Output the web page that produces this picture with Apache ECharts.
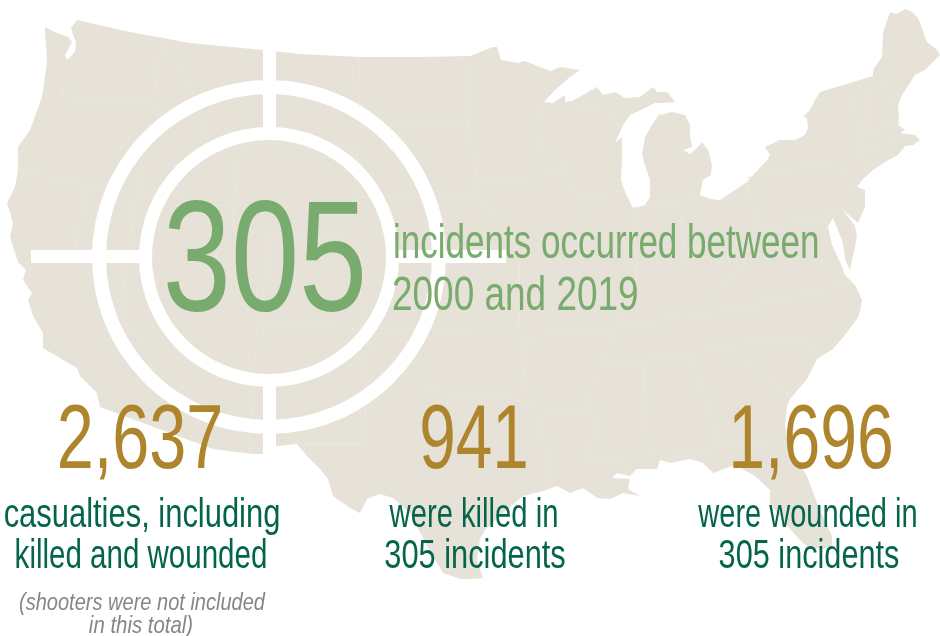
<!DOCTYPE html>
<html>
<head>
<meta charset="utf-8">
<title>Active shooter incidents 2000-2019</title>
<style>
  html, body { margin: 0; padding: 0; background: #fff; }
  #root { width: 940px; height: 636px; }
</style>
</head>
<body>
<div id="root"></div>
<script src="https://cdn.jsdelivr.net/npm/echarts@6/dist/echarts.min.js"></script>
<script>
// headline and totals as printed
const headlineValue = '305'
const headlineText = ['incidents occurred between', '2000 and 2019']
const totals = ['2,637', '941', '1,696']
const captions = [
  ['casualties, including', 'killed and wounded'],
  ['were killed in', '305 incidents'],
  ['were wounded in', '305 incidents']
]
const footnote = ['(shooters were not included', 'in this total)']

// map silhouette, in picture units
const usOutline = [
  [45,27],[55,32],[68,37],[72,42],[65,55],[67,60],[75,52],[76,42],[73,35],[71,28],[77,20],
  [130,32],[190,43],[263,50],[300,54],[360,57],[420,57],[470,56],[493,47],[497,47],[501,60],
  [518,63],[525,61],[540,67],[551,71],[560,67],[580,70],[570,77],[555,90],[544,102],[553,103],
  [565,95],[565,102],[572,101],[585,94],[597,87],[603,95],[615,92],[625,98],[640,97],[653,87],
  [657,92],[667,92],[675,102],[663,103],[655,103],[645,108],[630,115],[623,125],[615,143],[622,137],
  [622,160],[621,180],[625,192],[633,208],[637,208],[645,205],[650,197],[650,180],[645,165],[642,155],
  [645,137],[652,125],[660,113],[660,115],[672,112],[685,115],[690,125],[690,135],[692,147],[683,150],
  [690,154],[698,147],[702,142],[708,150],[712,165],[711,175],[703,180],[700,195],[710,199],[720,200],
  [735,190],[747,182],[767,160],[770,155],[765,147],[780,140],[795,140],[805,135],[808,128],[807,118],
  [803,117],[810,110],[815,100],[820,92],[873,76],[873,70],[882,57],[883,33],[890,12],[896,14],
  [905,9],[912,12],[918,18],[927,42],[937,50],[940,55],[932,63],[925,70],[915,75],[910,83],
  [902,95],[898,105],[899,118],[898,125],[905,130],[900,133],[915,135],[920,140],[913,145],[905,146],
  [898,155],[885,162],[873,170],[862,180],[857,187],[865,190],[865,207],[858,223],[843,210],[855,226],
  [857,237],[850,270],[846,262],[842,240],[838,230],[833,218],[828,226],[832,245],[840,262],[845,275],
  [855,285],[862,300],[860,312],[857,319],[845,335],[833,349],[817,359],[807,379],[790,399],[787,406],
  [785,425],[790,450],[807,476],[817,503],[832,536],[832,545],[823,549],[810,548],[803,543],[790,529],
  [777,513],[770,503],[770,490],[755,476],[735,465],[713,473],[703,463],[690,459],[670,463],[660,460],
  [657,469],[637,469],[630,476],[617,473],[612,478],[630,479],[628,489],[640,496],[623,493],[610,499],
  [597,498],[583,488],[570,493],[557,486],[543,491],[523,496],[503,513],[485,530],[480,539],[477,560],
  [483,578],[470,579],[460,579],[443,573],[427,546],[410,513],[393,498],[380,494],[367,499],[360,513],
  [350,508],[333,496],[328,479],[320,469],[307,456],[297,444],[277,446],[263,454],[253,454],[213,449],
  [100,407],[97,393],[80,376],[77,368],[60,358],[43,348],[43,333],[33,316],[28,300],[32,293],
  [23,280],[26,270],[18,262],[10,237],[13,223],[7,203],[15,187],[18,170],[18,147],[30,130],
  [42,97],[45,77],[47,60],[45,33]
]

// faint state lines, same units
const stateLines = [
  [[163,37],[153,100]], [[177,40],[175,60],[193,93],[190,115],[200,120],[207,140],[242,143]],
  [[50,77],[63,90],[63,95],[100,100],[153,103],[160,115],[143,157],[137,193]],
  [[18,170],[87,185],[137,193],[233,207]], [[242,143],[233,207],[233,227],[268,233],[262,313],[257,326],[250,453]],
  [[87,185],[75,247],[93,270],[120,316],[153,356],[147,396]], [[137,193],[120,316]],
  [[242,143],[358,146],[353,197],[352,225]], [[360,57],[358,117]], [[358,126],[470,125]],
  [[353,197],[480,197]], [[268,233],[352,240],[367,329]], [[260,324],[367,329],[519,328]],
  [[367,343],[365,444],[297,444]], [[367,343],[423,386],[467,399],[507,398],[537,406]],
  [[543,102],[542,117],[535,127],[538,147],[563,163],[565,173],[570,188],[587,207],[573,223]],
  [[463,57],[470,100],[468,125],[477,180],[480,197]], [[477,180],[565,174]], [[480,197],[519,250],[519,328]],
  [[577,195],[625,191]], [[572,103],[610,113],[620,127]], [[633,208],[700,197]], [[633,208],[637,277]],
  [[678,200],[687,263]], [[747,182],[757,230]], [[747,178],[830,160],[843,172],[858,197],[843,210]],
  [[757,232],[840,212]], [[847,87],[860,127],[862,150],[867,173]], [[873,77],[870,97],[870,130]],
  [[878,70],[898,113]], [[860,133],[900,123]], [[862,150],[897,140]], [[853,283],[747,307],[690,316]],
  [[757,230],[740,270],[715,290],[690,316]], [[520,338],[600,331],[683,316]], [[603,366],[687,354],[730,348]],
  [[730,349],[753,338],[797,338],[823,353]], [[730,353],[770,379],[790,396]], [[715,448],[770,444],[803,476]],
  [[688,354],[710,409],[717,448]], [[643,361],[647,429],[650,463]], [[665,451],[715,448]],
  [[587,459],[623,456],[627,473]], [[537,416],[590,413]], [[613,328],[603,366],[588,396],[595,429],[587,459]],
  [[520,338],[527,393],[537,406]], [[537,416],[550,463],[545,489]], [[637,277],[613,328]]
]

const mapColor = '#e6e2d8'
const chart = echarts.init(document.getElementById('root'), null, { renderer: 'canvas' })

// Liberation Sans squeezed sideways, the original face is a compressed one
function label(str, x, y, size, color, scale, align, style) {
  return {
    type: 'text', x, y, z: 100, silent: true, scaleX: scale,
    style: {
      text: str, fill: color, textAlign: align || 'center', textVerticalAlign: 'bottom',
      fontFamily: '"Liberation Sans", sans-serif',
      fontSize: size, fontStyle: style || 'normal', lineHeight: size
    }
  }
}

const cx = 269
const cy = 257
const white = { fill: '#fff' }
const graphics = [
  { type: 'rect', z: 50, silent: true, shape: { x: 263, y: 45, width: 13, height: 85 }, style: white },
  { type: 'rect', z: 50, silent: true, shape: { x: 263, y: 385, width: 13, height: 75 }, style: white },
  { type: 'rect', z: 50, silent: true, shape: { x: 31, y: 250, width: 110, height: 13 }, style: white },
  { type: 'rect', z: 50, silent: true, shape: { x: 397, y: 250, width: 109, height: 13 }, style: white },
  { type: 'ring', z: 50, silent: true, shape: { cx, cy, r: 130, r0: 117 }, style: white },
  { type: 'ring', z: 50, silent: true, shape: { cx, cy, r: 177, r0: 163 }, style: white },
  label(headlineValue, 265, 345, 158, '#79aa6e', 0.775),
  label(headlineText[0], 393, 269, 48, '#79aa6e', 0.73, 'left'),
  label(headlineText[1], 392, 321, 48, '#79aa6e', 0.77, 'left'),
  label(totals[0], 140, 488, 90, '#ae852c', 0.74),
  label(totals[1], 474, 488, 90, '#ae852c', 0.73),
  label(totals[2], 811, 488, 90, '#ae852c', 0.735),
  label(captions[0][0], 142, 536, 40, '#04654a', 0.773),
  label(captions[0][1], 141, 577, 40, '#04654a', 0.738),
  label(captions[1][0], 474, 536, 40, '#04654a', 0.73),
  label(captions[1][1], 475, 577, 40, '#04654a', 0.77),
  label(captions[2][0], 808, 536, 40, '#04654a', 0.725),
  label(captions[2][1], 809, 577, 40, '#04654a', 0.767),
  label(footnote[0], 142, 615, 24, '#85868a', 0.834, 'center', 'italic'),
  label(footnote[1], 141, 638, 24, '#85868a', 0.85, 'center', 'italic')
]

chart.setOption({
  animation: false,
  backgroundColor: '#fff',
  grid: { left: 0, right: 0, top: 0, bottom: 0 },
  xAxis: { type: 'value', min: 0, max: 940, show: false },
  yAxis: { type: 'value', min: 0, max: 636, inverse: true, show: false },
  graphic: graphics,
  series: [
    {
      type: 'custom',
      silent: true,
      coordinateSystem: 'cartesian2d',
      data: [[0, 0]],
      renderItem: (params, api) => ({
        type: 'group',
        children: [
          {
            type: 'polygon',
            shape: { points: usOutline.map((p) => api.coord(p)) },
            style: { fill: mapColor }
          },
          ...stateLines.map((line) => ({
            type: 'polyline',
            shape: { points: line.map((p) => api.coord(p)) },
            style: { stroke: '#eae7de', lineWidth: 1, fill: 'none' }
          }))
        ]
      })
    }
  ]
})
</script>
</body>
</html>
